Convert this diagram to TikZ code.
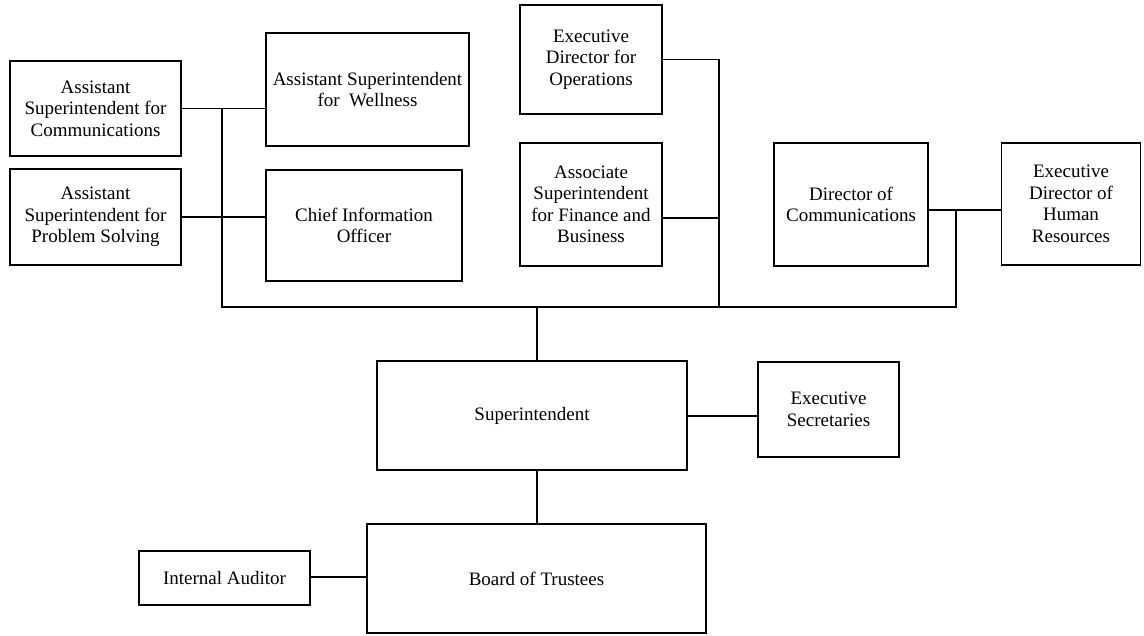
\documentclass[tikz,border=0pt]{standalone}
\usepackage{fontspec}
\setmainfont{Liberation Serif}
\begin{document}
\begin{tikzpicture}[x=1pt,y=-1pt,
  orgbox/.style={draw, line width=1.8pt, align=center, inner sep=0pt,
    font=\fontsize{19}{21.5}\selectfont},
  link/.style={line width=1.8pt}]
\useasboundingbox (0,0) rectangle (1144,635);

% upper left group
\node[orgbox, minimum width=171, minimum height=95] (comm) at (95.5,108.5)
  {Assistant\\Superintendent for\\Communications};
\node[orgbox, minimum width=203, minimum height=113] (well) at (367.5,89.5)
  {Assistant Superintendent\\for~ Wellness};
\node[orgbox, minimum width=171, minimum height=96] (ps) at (95.5,217)
  {Assistant\\Superintendent for\\Problem Solving};
\node[orgbox, minimum width=196, minimum height=111] (cio) at (364,225.5)
  {Chief Information\\Officer};

% upper middle group
\node[orgbox, minimum width=142, minimum height=109] (ops) at (591,59.5)
  {Executive\\Director for\\Operations};
\node[orgbox, minimum width=142, minimum height=123] (fin) at (591,204.5)
  {Associate\\Superintendent\\for Finance and\\Business};

% upper right group
\node[orgbox, minimum width=154, minimum height=123] (dcomm) at (851,204.5)
  {Director of\\Communications};
\node[orgbox, minimum width=139, minimum height=122] (hr) at (1071,204)
  {Executive\\Director of\\Human\\Resources};

% lower part
\node[orgbox, minimum width=310, minimum height=109] (sup) at (532,415.5)
  {Superintendent};
\node[orgbox, minimum width=141, minimum height=95] (sec) at (828.5,409.5)
  {Executive\\Secretaries};
\node[orgbox, minimum width=339, minimum height=109] (board) at (536.5,578.5)
  {Board of Trustees};
\node[orgbox, minimum width=171, minimum height=54] (aud) at (224.5,578)
  {Internal Auditor};

% bus junctions
\coordinate (jl) at (222,108.5);
\coordinate (jm) at (719,59.5);
\coordinate (jr) at (956,210);
\coordinate (bl) at (222,307);
\coordinate (bm) at (719,307);
\coordinate (br) at (956,307);
\coordinate (bs) at (537,307);
\coordinate (jf) at (719,218);

% connectors
\draw[link] (comm.east) -- (comm.east -| well.west);
\draw[link] (ps.east) -- (ps.east -| cio.west);
\draw[link] (jl) -- (bl) -- (br) -- (jr);
\draw[link] (ops.east) -- (jm) -- (bm);
\draw[link] (fin.east |- jf) -- (jf);
\draw[link] (dcomm.east |- jr) -- (hr.west |- jr);
\draw[link] (bs) -- (bs |- sup.north);
\draw[link] (sup.east |- 0,416) -- (sec.west |- 0,416);
\draw[link] (sup.south -| bs) -- (board.north -| bs);
\draw[link] (aud.east |- 0,577) -- (board.west |- 0,577);
\end{tikzpicture}
\end{document}
